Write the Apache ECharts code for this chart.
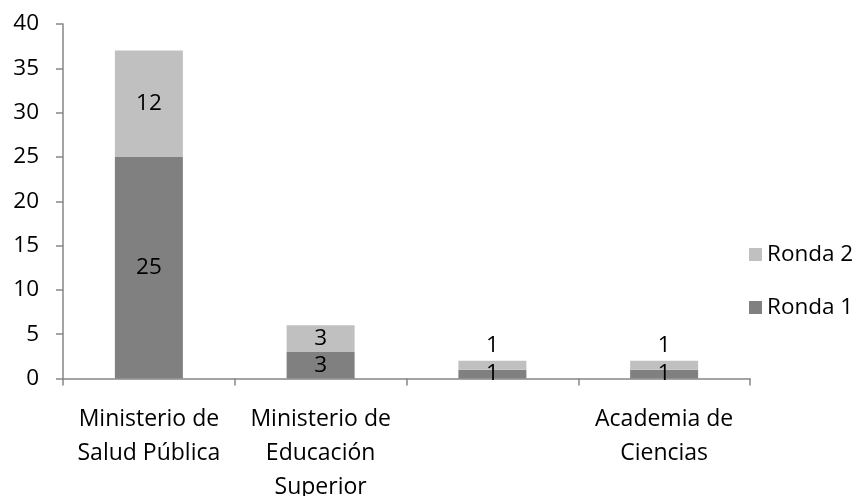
<!DOCTYPE html>
<html><head><meta charset="utf-8">
<script src="https://cdn.jsdelivr.net/npm/echarts@6/dist/echarts.min.js"></script>
<style>html,body{margin:0;padding:0;background:#fff}#c{width:856px;height:496px}</style>
</head><body><div id="c"></div>
<script>
const categories = ['Ministerio de\nSalud Pública', 'Ministerio de\nEducación\nSuperior', '', 'Academia de\nCiencias'];
const ronda1 = [25, 3, 1, 1];
const ronda2 = [12, 3, 1, 1];
const yTicks = {min: 0, max: 40, interval: 5};

const FONT = 'Open Sans';
const FS = 22.5;
const chart = echarts.init(document.getElementById('c'));
const axisColor = '#868686';

const r2data = ronda2.map((v, i) => {
  const total = v + ronda1[i];
  if (total < 3) return {value: v, label: {position: 'top', distance: 4}};
  return v;
});

chart.setOption({
  animation: false,
  textStyle: {fontFamily: FONT},
  grid: {left: 63, right: 106, top: 24, bottom: 117.5, containLabel: false, outerBoundsMode: 'none'},
  legend: {
    orient: 'vertical', left: 744, top: 238,
    data: ['Ronda 2', 'Ronda 1'],
    itemWidth: 13, itemHeight: 13, itemGap: 30,
    icon: 'rect',
    textStyle: {fontFamily: FONT, fontSize: FS, color: '#000'}
  },
  xAxis: {
    type: 'category', data: categories,
    axisLine: {lineStyle: {color: axisColor, width: 1.5}},
    axisTick: {show: true, length: 7, lineStyle: {color: axisColor, width: 1.5}},
    axisLabel: {color: '#000', fontSize: 23, fontFamily: FONT, lineHeight: 34, margin: 24, interval: 0}
  },
  yAxis: {
    type: 'value', min: yTicks.min, max: yTicks.max, interval: yTicks.interval,
    splitLine: {show: false},
    axisLine: {show: true, lineStyle: {color: axisColor, width: 1.5}},
    axisTick: {show: true, length: 7, lineStyle: {color: axisColor, width: 1.5}},
    axisLabel: {color: '#000', fontSize: FS, fontFamily: FONT, margin: 24}
  },
  series: [
    {name: 'Ronda 1', type: 'bar', stack: 's', data: ronda1, barWidth: 68,
     itemStyle: {color: '#808080'},
     label: {show: true, position: 'inside', color: '#000', fontSize: FS, fontFamily: FONT}},
    {name: 'Ronda 2', type: 'bar', stack: 's', data: r2data, barWidth: 68,
     itemStyle: {color: '#c0c0c0'},
     label: {show: true, position: 'inside', color: '#000', fontSize: FS, fontFamily: FONT}}
  ]
});
</script></body></html>
